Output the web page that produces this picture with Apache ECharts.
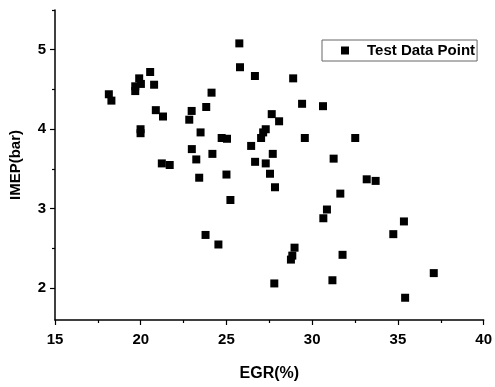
<!DOCTYPE html>
<html>
<head>
<meta charset="utf-8">
<script src="https://cdn.jsdelivr.net/npm/echarts@6/dist/echarts.min.js"></script>
<style>html,body{margin:0;padding:0;background:#fff}#c{width:495px;height:387px}</style>
</head>
<body>
<div id="c"></div>
<script>
const egr = [25.75,25.79,26.66,20.55,19.91,20.01,19.68,19.68,20.78,18.14,18.29,24.13,20.88,21.30,23.82,22.97,22.83,27.64,28.07,19.99,19.99,23.49,24.72,25.03,27.29,27.14,27.02,26.44,22.98,24.18,27.70,23.24,26.67,27.29,21.23,21.69,25.00,27.54,23.41,27.83,25.23,23.78,24.53,27.79,28.89,29.41,30.63,29.57,32.51,31.25,33.18,33.70,31.64,30.86,30.65,35.35,34.73,28.97,28.84,28.76,31.77,37.09,31.18,35.42];
const imep = [5.08,4.78,4.67,4.72,4.64,4.57,4.54,4.48,4.56,4.44,4.36,4.46,4.24,4.16,4.28,4.23,4.12,4.19,4.10,4.00,3.95,3.96,3.89,3.88,4.00,3.96,3.89,3.79,3.75,3.69,3.69,3.62,3.59,3.57,3.57,3.55,3.43,3.44,3.39,3.27,3.11,2.67,2.55,2.06,4.64,4.32,4.29,3.89,3.89,3.63,3.37,3.35,3.19,2.99,2.88,2.84,2.68,2.51,2.41,2.36,2.42,2.19,2.10,1.88];
const seriesName = 'Test Data Point';
const xTitle = 'EGR(%)';
const yTitle = 'IMEP(bar)';
const yMajor = [2, 3, 4, 5];
const yMinor = [2.5, 3.5, 4.5, 5.5];

const font = 'Liberation Sans, Arial, sans-serif';
const chart = echarts.init(document.getElementById('c'));
chart.setOption({
  animation: false,
  backgroundColor: '#fff',
  grid: { left: 54, right: 9, top: 10, bottom: 55 },
  legend: {
    data: [seriesName],
    left: 322, top: 40,
    orient: 'horizontal',
    icon: 'rect', itemWidth: 8, itemHeight: 8,
    padding: [3, 2, 3, 19],
    borderColor: '#666', borderWidth: 1,
    textStyle: { fontFamily: font, fontWeight: 'bold', fontSize: 15, color: '#000', padding: [0, 0, 0, 13] }
  },
  xAxis: {
    type: 'value', min: 15, max: 40, interval: 5,
    name: xTitle, nameLocation: 'middle', nameGap: 46,
    nameTextStyle: { fontFamily: font, fontWeight: 'bold', fontSize: 16, color: '#000' },
    axisLine: { show: true, onZero: false, lineStyle: { color: '#000', width: 1.5 } },
    axisTick: { show: true, length: 5, lineStyle: { color: '#000', width: 1.2 } },
    minorTick: { show: true, splitNumber: 2, length: 3, lineStyle: { color: '#000', width: 1.2 } },
    splitLine: { show: false },
    axisLabel: { fontFamily: font, fontWeight: 'bold', fontSize: 15, color: '#000', margin: 12 }
  },
  yAxis: [{
    type: 'value', min: 1.6, max: 5.5,
    name: yTitle, nameLocation: 'middle', nameGap: 32, nameRotate: 90,
    nameTextStyle: { fontFamily: font, fontWeight: 'bold', fontSize: 15, color: '#000' },
    axisLine: { show: true, onZero: false, lineStyle: { color: '#000', width: 1.5 } },
    axisTick: { show: true, length: 5, customValues: yMajor, lineStyle: { color: '#000', width: 1.2 } },
    splitLine: { show: false },
    axisLabel: { fontFamily: font, fontWeight: 'bold', fontSize: 15, color: '#000', margin: 9, customValues: yMajor }
  }, {
    type: 'value', min: 1.6, max: 5.5, position: 'left',
    axisLine: { show: false },
    axisTick: { show: true, length: 3, customValues: yMinor, lineStyle: { color: '#000', width: 1.2 } },
    splitLine: { show: false },
    axisLabel: { show: false }
  }],
  series: [{
    name: seriesName,
    type: 'scatter',
    symbol: 'rect',
    symbolSize: 8,
    itemStyle: { color: '#000', opacity: 1 },
    data: egr.map((x, i) => [x, imep[i]])
  }]
});
</script>
</body>
</html>
